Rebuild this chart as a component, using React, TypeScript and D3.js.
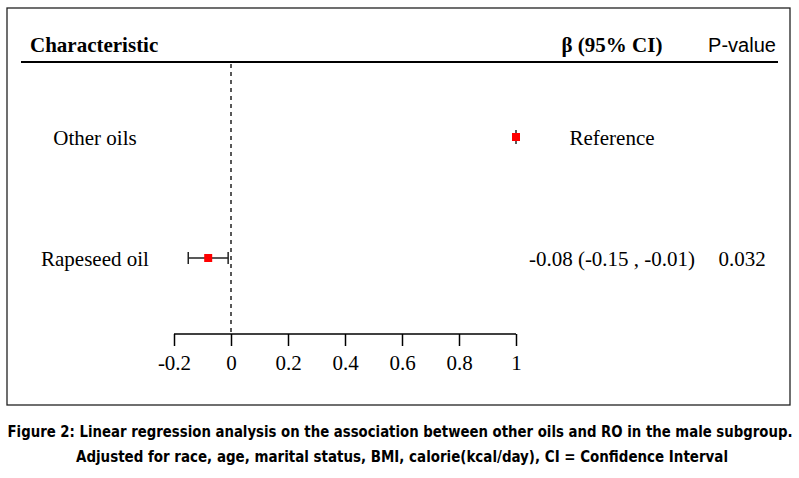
import { useEffect, useRef } from 'react'
import * as d3 from 'd3'

// forest plot data
const characteristics = ['Other oils', 'Rapeseed oil']
const betas = [1, -0.08]
const lowerCI: (number | null)[] = [null, -0.15]
const upperCI: (number | null)[] = [null, -0.01]
const ciLabels = ['Reference', '-0.08 (-0.15 , -0.01)']
const pValues = ['', '0.032']
const xTicks = [-0.2, 0, 0.2, 0.4, 0.6, 0.8, 1]

const captionLines = [
  'Figure 2: Linear regression analysis on the association between other oils and RO in the male subgroup.',
  'Adjusted for race, age, marital status, BMI, calorie(kcal/day), CI = Confidence Interval',
]

const SERIF = "'Liberation Serif', 'Times New Roman', serif"
const SANS = "'Liberation Sans', Arial, sans-serif"
const CAPTION = "'DejaVu Sans Condensed', 'Open Sans', sans-serif"

export default function App() {
  const svgRef = useRef<SVGSVGElement>(null)

  useEffect(() => {
    if (!svgRef.current) return
    const svg = d3.select(svgRef.current)
    svg.selectAll('*').remove()

    const width = 799
    const height = 478

    svg.attr('width', width).attr('height', height)
    svg.append('rect').attr('width', width).attr('height', height).attr('fill', '#fff')

    // outer frame
    svg.append('rect')
      .attr('x', 7).attr('y', 8)
      .attr('width', 783).attr('height', 397)
      .attr('fill', 'none').attr('stroke', '#222').attr('stroke-width', 1.3)

    const x = d3.scaleLinear().domain([-0.2, 1]).range([174, 516])
    const y = d3.scalePoint<string>().domain(characteristics).range([137, 258])
    const axisY = 334
    const ciCenter = 612
    const pCenter = 742

    // header
    svg.append('text')
      .attr('x', 30).attr('y', 52)
      .attr('font-family', SERIF).attr('font-weight', 'bold').attr('font-size', 21)
      .text('Characteristic')
    svg.append('text')
      .attr('x', ciCenter).attr('y', 52).attr('text-anchor', 'middle')
      .attr('font-family', SERIF).attr('font-weight', 'bold').attr('font-size', 21)
      .text('β (95% CI)')
    svg.append('text')
      .attr('x', pCenter).attr('y', 52).attr('text-anchor', 'middle')
      .attr('font-family', SANS).attr('font-size', 20)
      .text('P-value')
    svg.append('line')
      .attr('x1', 21).attr('x2', 778).attr('y1', 62).attr('y2', 62)
      .attr('stroke', '#000').attr('stroke-width', 2)

    // reference line at 0
    svg.append('line')
      .attr('x1', x(0)).attr('x2', x(0)).attr('y1', 64).attr('y2', axisY)
      .attr('stroke', '#000').attr('stroke-width', 1.3).attr('stroke-dasharray', '4,4')

    // x axis
    const axis = svg.append('g')
      .attr('transform', `translate(0,${axisY})`)
      .call(d3.axisBottom(x).tickValues(xTicks).tickSize(12).tickSizeOuter(0)
        .tickFormat(d => String(+d)))
    axis.select('.domain').attr('stroke', '#000').attr('stroke-width', 1.5)
      .attr('d', `M${x(-0.2)},0H${x(1)}`)
    axis.selectAll('.tick line').attr('stroke', '#000').attr('stroke-width', 1.5)
    axis.selectAll('.tick text')
      .attr('font-family', SERIF).attr('font-size', 21).attr('fill', '#000')
      .attr('y', 21).attr('dy', '0.71em')

    const rows = characteristics.map((c, i) => ({
      name: c, beta: betas[i], lo: lowerCI[i], hi: upperCI[i], ci: ciLabels[i], p: pValues[i],
    }))

    const g = svg.append('g')
    rows.forEach(r => {
      const cy = y(r.name)!
      g.append('text')
        .attr('x', 95).attr('y', cy + 8).attr('text-anchor', 'middle')
        .attr('font-family', SERIF).attr('font-size', 21)
        .text(r.name)
      g.append('text')
        .attr('x', ciCenter).attr('y', cy + 8).attr('text-anchor', 'middle')
        .attr('font-family', SERIF).attr('font-size', 21)
        .text(r.ci)
      if (r.p) {
        g.append('text')
          .attr('x', pCenter).attr('y', cy + 8).attr('text-anchor', 'middle')
          .attr('font-family', SERIF).attr('font-size', 21)
          .text(r.p)
      }
      if (r.lo != null && r.hi != null) {
        g.append('line')
          .attr('x1', x(r.lo)).attr('x2', x(r.hi)).attr('y1', cy).attr('y2', cy)
          .attr('stroke', '#222').attr('stroke-width', 1.5)
        ;[r.lo, r.hi].forEach(v => {
          g.append('line')
            .attr('x1', x(v)).attr('x2', x(v)).attr('y1', cy - 6).attr('y2', cy + 6)
            .attr('stroke', '#222').attr('stroke-width', 1.5)
        })
      } else {
        g.append('line')
          .attr('x1', x(r.beta)).attr('x2', x(r.beta)).attr('y1', cy - 7).attr('y2', cy + 7)
          .attr('stroke', '#222').attr('stroke-width', 1.5)
      }
      g.append('rect')
        .attr('x', x(r.beta) - 4).attr('y', cy - 4)
        .attr('width', 8).attr('height', 8)
        .attr('fill', '#ff0000')
    })

    // caption: narrow font squeezed horizontally, stretched a bit vertically
    const capX = [400, 402]
    const capY = [437, 462]
    const capLen = [785, 652]
    captionLines.forEach((line, i) => {
      svg.append('g')
        .attr('transform', `translate(${capX[i]},${capY[i]}) scale(1,1.25)`)
        .append('text')
        .attr('text-anchor', 'middle')
        .attr('font-family', CAPTION).attr('font-weight', 'bold').attr('font-size', 13)
        .attr('textLength', capLen[i]).attr('lengthAdjust', 'spacingAndGlyphs')
        .text(line)
    })
  }, [])

  return (
    <div style={{ position: 'absolute', left: 0, top: 0 }}>
      <svg ref={svgRef} style={{ display: 'block' }} />
    </div>
  )
}
